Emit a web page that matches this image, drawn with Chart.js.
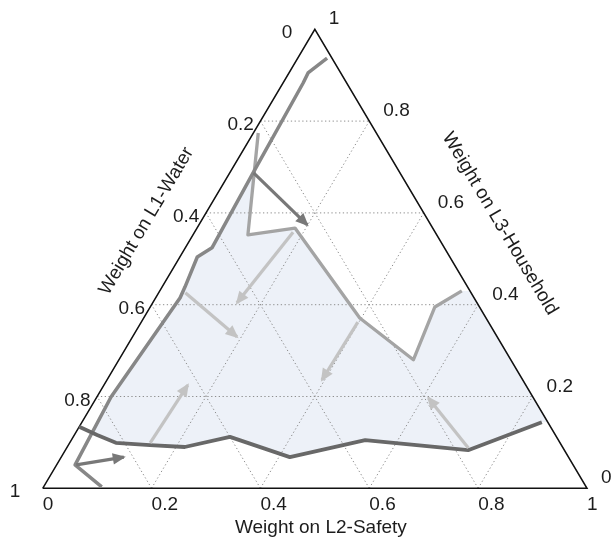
<!DOCTYPE html>
<html>
<head>
<meta charset="utf-8">
<script src="https://cdn.jsdelivr.net/npm/chart.js@4.4.1/dist/chart.umd.min.js"></script>
<style>
  html, body { margin: 0; padding: 0; background: #fff; }
  canvas { display: block; }
</style>
</head>
<body>
<canvas id="tern" width="612" height="544"></canvas>
<script>
// every point is [L2-Safety weight, L3-Household weight]; L1-Water = 1 - L2 - L3
const tickValues = [0, 0.2, 0.4, 0.6, 0.8, 1];
const tickLabels = ['0', '0.2', '0.4', '0.6', '0.8', '1'];
const gridSteps = [0.2, 0.4, 0.6, 0.8];

const leftFrontier = [[0.054, 0.937], [0.035, 0.905], [0.037, 0.883], [0.043, 0.687], [0.049, 0.524],
  [0.032, 0.504], [0.042, 0.439], [0.045, 0.415], [0.026, 0.199], [0.034, 0.051], [0.107, 0.003]];
const bottomFrontier = [[0, 0.134], [0.042, 0.116], [0.085, 0.099], [0.150, 0.094], [0.216, 0.090],
  [0.288, 0.112], [0.420, 0.068], [0.540, 0.105], [0.740, 0.083], [0.845, 0.144]];
const upperPath = [[0.009, 0.774], [0.101, 0.552], [0.180, 0.567], [0.397, 0.371], [0.541, 0.280],
  [0.523, 0.395], [0.555, 0.430]];
const shadedRegion = [[0.044, 0.687], [0.101, 0.552], [0.180, 0.567], [0.397, 0.371], [0.541, 0.280],
  [0.523, 0.395], [0.555, 0.430], [0.570, 0.430], [0.856, 0.144], [0.845, 0.144], [0.740, 0.083],
  [0.540, 0.105], [0.420, 0.068], [0.288, 0.112], [0.216, 0.090], [0.150, 0.094], [0.085, 0.099],
  [0.042, 0.116], [0.030, 0.120], [0.026, 0.199], [0.045, 0.415], [0.042, 0.439], [0.032, 0.504],
  [0.049, 0.524]];
// [from, to]
const lightArrows = [
  [[0.181, 0.558], [0.155, 0.404]],
  [[0.049, 0.426], [0.192, 0.330]],
  [[0.148, 0.099], [0.154, 0.225]],
  [[0.398, 0.362], [0.395, 0.236]],
  [[0.738, 0.088], [0.610, 0.197]]
];
const darkArrows = [
  [[0.044, 0.687], [0.199, 0.574]],
  [[0.036, 0.051], [0.115, 0.068]]
];

const toXY = p => ({ x: p[0] + p[1] / 2, y: p[1] });

function lineSet(points, color, width, order, extra) {
  return Object.assign({
    data: points.map(toXY),
    borderColor: color,
    borderWidth: width,
    pointRadius: 0,
    fill: false,
    tension: 0,
    clip: false,
    borderJoinStyle: 'round',
    order: order
  }, extra || {});
}

const datasets = [];
datasets.push(lineSet(shadedRegion, 'rgba(0,0,0,0)', 0, 20, { fill: 'shape', backgroundColor: '#edf1f8' }));
gridSteps.forEach(s => {
  const dash = { borderDash: [1.3, 2.5] };
  datasets.push(lineSet([[0, s], [1 - s, s]], '#8e8e8e', 1, 15, dash));
  datasets.push(lineSet([[s, 0], [s, 1 - s]], '#8e8e8e', 1, 15, dash));
  datasets.push(lineSet([[1 - s, 0], [0, 1 - s]], '#8e8e8e', 1, 15, dash));
});
datasets.push(lineSet([[0, 0], [1, 0], [0, 1], [0, 0]], '#111', 1.5, 12, { borderJoinStyle: 'miter' }));
datasets.push(lineSet(upperPath, '#a4a4a4', 3.3, 8));
datasets.push(lineSet(leftFrontier, '#878787', 3.5, 7));
datasets.push(lineSet(bottomFrontier, '#686868', 3.8, 6));
lightArrows.forEach(a => datasets.push(lineSet(a, '#c3c3c3', 3.2, 4, { arrowHead: true })));
darkArrows.forEach(a => datasets.push(lineSet(a, '#787878', 3.2, 3, { arrowHead: true })));

const ternaryDecor = {
  id: 'ternaryDecor',
  afterDatasetsDraw(chart) {
    const ctx = chart.ctx;
    const sx = chart.scales.x, sy = chart.scales.y;
    const px = (l2, l3) => [sx.getPixelForValue(l2 + l3 / 2), sy.getPixelForValue(l3)];

    // arrow heads
    chart.data.datasets.forEach((ds, i) => {
      if (!ds.arrowHead) return;
      const pts = chart.getDatasetMeta(i).data;
      const a = pts[0], b = pts[pts.length - 1];
      const ang = Math.atan2(b.y - a.y, b.x - a.x);
      const len = 13, half = 5.8;
      const tx = b.x + 2 * Math.cos(ang), ty = b.y + 2 * Math.sin(ang);
      ctx.save();
      ctx.translate(tx, ty);
      ctx.rotate(ang);
      ctx.beginPath();
      ctx.moveTo(0, 0);
      ctx.lineTo(-len, -half);
      ctx.lineTo(-len, half);
      ctx.closePath();
      ctx.fillStyle = ds.borderColor;
      ctx.fill();
      ctx.restore();
    });

    ctx.save();
    ctx.font = '19px "Liberation Sans", Arial, sans-serif';
    ctx.fillStyle = '#1c1c1c';
    ctx.textAlign = 'left';
    ctx.textBaseline = 'alphabetic';
    tickValues.forEach((v, i) => {
      let p = px(0, 1 - v);            // L1 axis, left edge
      ctx.fillText(tickLabels[i], p[0] - 33, p[1] + 9);
      p = px(v, 0);                    // L2 axis, base
      ctx.fillText(tickLabels[i], p[0], p[1] + 22);
      p = px(1 - v, v);                // L3 axis, right edge
      ctx.fillText(tickLabels[i], p[0] + 14, p[1] - 5);
    });

    // axis titles
    const mid = px(0.5, 0);
    ctx.textAlign = 'center';
    ctx.fillText('Weight on L2-Safety', mid[0] + 6, mid[1] + 45);

    const p0 = px(0, 0), pTop = px(0, 1), p1 = px(1, 0);
    const leftAng = Math.atan2(pTop[1] - p0[1], pTop[0] - p0[0]);
    const rightAng = Math.atan2(p1[1] - pTop[1], p1[0] - pTop[0]);
    ctx.textBaseline = 'middle';

    let e = px(0, 0.53);
    ctx.save();
    ctx.translate(e[0] + 47 * Math.sin(leftAng), e[1] - 47 * Math.cos(leftAng));
    ctx.rotate(leftAng);
    ctx.fillText('Weight on L1-Water', 0, 0);
    ctx.restore();

    e = px(0.49, 0.51);
    ctx.save();
    ctx.translate(e[0] + 60 * Math.sin(rightAng), e[1] - 60 * Math.cos(rightAng));
    ctx.rotate(rightAng);
    ctx.fillText('Weight on L3-Household', 0, 0);
    ctx.restore();
    ctx.restore();
  }
};

new Chart(document.getElementById('tern'), {
  type: 'line',
  data: { datasets: datasets },
  options: {
    responsive: false,
    animation: false,
    events: [],
    layout: { padding: { left: 42.7, right: 25, top: 29.3, bottom: 55.7 } },
    scales: {
      x: { type: 'linear', min: 0, max: 1, display: false },
      y: { type: 'linear', min: 0, max: 1, display: false }
    },
    plugins: {
      legend: { display: false },
      tooltip: { enabled: false }
    }
  },
  plugins: [ternaryDecor]
});
</script>
</body>
</html>
